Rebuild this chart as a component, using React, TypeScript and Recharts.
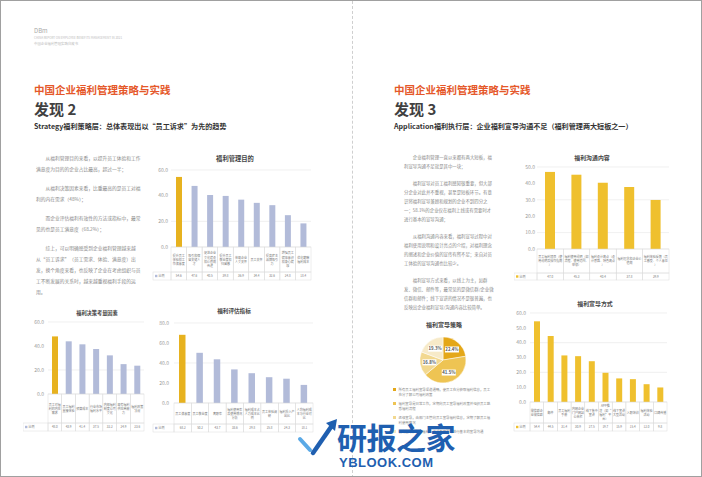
import React from 'react';
import { BarChart, Bar, XAxis, YAxis, CartesianGrid, Cell, PieChart, Pie } from 'recharts';

const FONT = '"Noto Sans CJK SC", "Noto Sans", sans-serif';

// 福利管理目的
const purposeCats = ['提升员工体验和工作满意度', '吸引和保留关键人才', '促进企业文化建设和价值观传递', '提升员工敬业度和归属感', '体现企业人文关怀', '员工关怀', '提高雇主品牌吸引力', '增强员工健康意识和身心健康', '优化薪酬福利成本'];
const purposeVals = [54.6, 47.6, 40.5, 39.8, 36.9, 34.4, 32.6, 24.8, 18.4];
const purposeTicks = [0, 20, 40, 60];

// 福利决策考量因素
const factorCats = ['员工对福利的内在需求', '员工福利直接体验', '预算成本', '行业市场福利水平', '内部福利制度公司文化', '现有福利供应商能力', '福利政策法规'];
const factorVals = [48.0, 43.9, 41.4, 37.5, 32.2, 24.9, 23.6];
const factorTicks = [0, 20, 40, 60];

// 福利评估指标
const evalCats = ['员工满意度', '员工敬业度', '离职率', '福利使用率及使用情况分析', '福利成本占人力成本比例', '员工体验调研', '福利投入产出比', '人均福利成本与行业对比'];
const evalVals = [68.2, 50.2, 43.7, 33.6, 29.8, 25.8, 24.3, 18.1];
const evalTicks = [0, 20, 40, 60, 80];

// 福利沟通内容
const commCats = ['员工福利项目（使用说明及操作指南）', '福利使用说明（如流程、使用范围、申领）', '福利设计亮点（设计思路、特色亮点）', '福利理念和企业价值观', '福利体验反馈（员工感受、个人意见）'];
const commVals = [47.0, 45.3, 40.4, 37.8, 29.9];
const commTicks = [0, 10, 20, 30, 40, 50];

// 福利宣导方式
const wayCats = ['微信群企业微信群', '邮件', '员工福利手册', '内网企业门户网站公告栏', '线下集中宣讲', 'APP推送（如“福利”平台）', '线下宣讲大型活动', '入职培训', '福利体验活动', '口碑传播'];
const wayVals = [54.4, 44.5, 31.4, 30.9, 27.5, 19.7, 15.9, 15.4, 12.0, 9.8];
const wayTicks = [0, 10, 20, 30, 40, 50, 60];

// 福利宣导策略
const strategyNames = ['有计划', '日常宣导', '逐级宣导', '基本宣导'];
const strategyVals = [22.4, 41.5, 16.8, 19.3];
const strategyColors = ['#e4a718', '#eec453', '#f2d88f', '#f7eac8'];
const strategyLegend = [
  '所有员工福利宣导渠道通畅，使员工充分获取福利信息，员工充分了解公司福利政策',
  '福利宣导是日常工作，定期向员工宣导福利政策并组织员工熟悉福利流程',
  '逐级宣导，由部门主管向员工宣导福利信息，定期了解员工福利使用情况',
  '没有宣导，仅在福利上线或有需要时进行基本的宣导沟通',
];

function wrap(s: string, n: number) {
  const out: string[] = [];
  for (let i = 0; i < s.length; i += n) out.push(s.slice(i, i + n));
  return out;
}

function TableTick(props: any) {
  const { x, y, payload, index, bw, cellH, valH, vals, font, legendW, legendFill } = props;
  const i = index ?? payload.index;
  const n = Math.max(1, Math.floor((bw - 1.5) / font));
  const lines = wrap(String(payload.value), n);
  const lh = font * 1.35;
  const y0 = y + cellH / 2 - ((lines.length - 1) * lh) / 2 + font * 0.35;
  return (
    <g>
      <rect x={x - bw / 2} y={y} width={bw} height={cellH} fill="none" stroke="#dcdcdc" strokeWidth={0.5} />
      <text fontSize={font} fill="#777" textAnchor="middle" fontFamily={FONT}>
        {lines.map((l, k) => (
          <tspan key={k} x={x} y={y0 + k * lh}>{l}</tspan>
        ))}
      </text>
      <rect x={x - bw / 2} y={y + cellH} width={bw} height={valH} fill="none" stroke="#dcdcdc" strokeWidth={0.5} />
      <text x={x} y={y + cellH + valH / 2 + font * 0.35} fontSize={font} fill="#777" textAnchor="middle" fontFamily={FONT}>
        {vals[i].toFixed(1)}
      </text>
      {i === 0 && (
        <g>
          <rect x={x - bw / 2 - legendW} y={y + cellH} width={legendW} height={valH} fill="none" stroke="#dcdcdc" strokeWidth={0.5} />
          <rect x={x - bw / 2 - legendW + 2} y={y + cellH + valH / 2 - 1.2} width={2.4} height={2.4} fill={legendFill} />
          <text x={x - bw / 2 - legendW + 5.5} y={y + cellH + valH / 2 + font * 0.35} fontSize={font} fill="#777" fontFamily={FONT}>比例</text>
        </g>
      )}
    </g>
  );
}

function TableBarChart(p: any) {
  const mt = 4;
  const mr = 2;
  const axisH = p.cellH + p.valH + 1;
  const width = p.yAxisW + p.plotW + mr;
  const height = mt + p.plotH + axisH;
  const data = p.cats.map((c: string, i: number) => ({ name: c, value: p.vals[i] }));
  const bw = p.plotW / p.cats.length;
  const max = p.ticks[p.ticks.length - 1];
  return (
    <>
      <div style={{ position: 'absolute', left: p.titleX - 100, top: p.titleY - p.titleSize * 0.7, width: 200, textAlign: 'center', fontSize: p.titleSize, fontWeight: 700, color: '#444', lineHeight: 1.2 }}>
        {p.title}
      </div>
      <div style={{ position: 'absolute', left: p.x0 - p.yAxisW, top: p.yTop - mt }}>
        <BarChart width={width} height={height} data={data} margin={{ top: mt, right: mr, bottom: 0, left: 0 }}>
          <CartesianGrid vertical={false} stroke="#e6e6e6" strokeWidth={0.6} />
          <XAxis
            dataKey="name"
            height={axisH}
            interval={0}
            tickSize={0}
            tickMargin={0}
            axisLine={false}
            tickLine={false}
            tick={(t: any) => (
              <TableTick {...t} bw={bw} cellH={p.cellH} valH={p.valH} vals={p.vals} font={p.cellFont} legendW={p.legendW} legendFill={p.legendFill} />
            )}
          />
          <YAxis
            width={p.yAxisW}
            domain={[0, max]}
            ticks={p.ticks}
            axisLine={false}
            tickLine={false}
            tickSize={0}
            tickMargin={p.tickMargin}
            tick={{ fontSize: 5, fill: '#999', fontFamily: FONT }}
            tickFormatter={(v: number) => v.toFixed(1)}
          />
          <Bar dataKey="value" barSize={p.barSize} isAnimationActive={false}>
            {data.map((d: any, i: number) => (
              <Cell key={i} fill={i === 0 && p.firstFill ? p.firstFill : p.fill} />
            ))}
          </Bar>
        </BarChart>
      </div>
    </>
  );
}

function PieLabel(props: any) {
  const { cx, cy, midAngle, outerRadius, value } = props;
  const RAD = Math.PI / 180;
  const r = outerRadius * 0.6;
  const x = cx + r * Math.cos(-midAngle * RAD);
  const y = cy + r * Math.sin(-midAngle * RAD);
  return (
    <g>
      <rect x={x - 7} y={y - 3} width={14} height={6} fill="#fff" />
      <text x={x} y={y + 1.5} fontSize={4.3} fontWeight={700} fill="#555" textAnchor="middle" fontFamily={FONT}>
        {value.toFixed(1)}%
      </text>
    </g>
  );
}

const paraLeft = [
  '从福利管理目的来看，以提升员工体验和工作满意度为目的的企业占比最高，超过一半；',
  '从福利决策因素来看，比重最高的是员工对福利的内在需求（48%）；',
  '而企业评估福利有效性的方法或指标中，最常见的也是员工满意度（68.2%）；',
  '综上，可以明确感受到企业福利管理越来越从“员工诉求”（员工需求、体验、满意度）出发，换个角度来看，也反映了企业在考虑组织与员工不断发展的关系时，越来越重视福利手段的运用。',
];

const paraRight = [
  '企业福利管理一直以来都有两大短板，福利宣导沟通不足就是其中一块；',
  '福利宣导对员工福利感知很重要，但大部分企业对此并不重视，甚至是短板环节。有意识将福利宣导兼顾和规划的企业不到四分之一；58.1%的企业仅在福利上线或有需要时才进行基本的宣导沟通；',
  '从福利沟通内容来看，福利宣导过程中对福利使用说明和设计亮点的介绍，对福利理念的阐述和企业价值的宣传有所不足；来自对员工体验的宣导沟通也比较少。',
  '福利宣导方式来看，以线上为主，如群发、微信、邮件等，最常见的是微信群/企业微信群和邮件；线下宣讲的情况不是很普遍，也反映出企业福利宣导/沟通内容比较简单。',
];

export default function App() {
  const pieData = strategyNames.map((n, i) => ({ name: n, value: strategyVals[i] }));
  return (
    <div style={{ position: 'absolute', left: 0, top: 0, width: 702, height: 477, background: '#fff', fontFamily: FONT, overflow: 'hidden', border: '1px solid #a0a0a0', boxSizing: 'border-box' }}>
      <div style={{ position: 'absolute', left: 351, top: 0, height: 477, borderLeft: '1px dashed #cfcfcf' }} />

      {/* header */}
      <div style={{ position: 'absolute', left: 33, top: 27, fontSize: 6, color: '#aaa', lineHeight: 1 }}>DBm</div>
      <div style={{ position: 'absolute', left: 33, top: 36, fontSize: 3, color: '#bbb', lineHeight: 1 }}>CHINA REPORT ON EMPLOYEE BENEFITS MANAGEMENT IN 2021</div>
      <div style={{ position: 'absolute', left: 33, top: 41, fontSize: 3.4, color: '#bbb', lineHeight: 1 }}>中国企业福利管理实践白皮书</div>

      {/* left heading */}
      <div style={{ position: 'absolute', left: 33, top: 83, fontSize: 10.5, fontWeight: 700, color: '#e5582a', lineHeight: 1.2 }}>中国企业福利管理策略与实践</div>
      <div style={{ position: 'absolute', left: 33, top: 99, fontSize: 15, fontWeight: 700, color: '#404040', lineHeight: 1.2 }}>发现 2</div>
      <div style={{ position: 'absolute', left: 33, top: 120.5, fontSize: 7.1, fontWeight: 600, color: '#333', lineHeight: 1.2, whiteSpace: 'nowrap' }}>Strategy福利策略层：总体表现出以“员工诉求”为先的趋势</div>

      {/* right heading */}
      <div style={{ position: 'absolute', left: 393, top: 83, fontSize: 10.5, fontWeight: 700, color: '#e5582a', lineHeight: 1.2 }}>中国企业福利管理策略与实践</div>
      <div style={{ position: 'absolute', left: 393, top: 99, fontSize: 15, fontWeight: 700, color: '#404040', lineHeight: 1.2 }}>发现 3</div>
      <div style={{ position: 'absolute', left: 393, top: 120.5, fontSize: 7.1, fontWeight: 600, color: '#333', lineHeight: 1.2, whiteSpace: 'nowrap' }}>Application福利执行层：企业福利宣导沟通不足（福利管理两大短板之一）</div>

      {/* left paragraphs */}
      <div style={{ position: 'absolute', left: 35, top: 150.5, width: 106 }}>
        {paraLeft.map((t, i) => (
          <div key={i} style={{ fontSize: 4.75, lineHeight: '11px', color: '#888', textIndent: '2em', marginBottom: 8 }}>{t}</div>
        ))}
      </div>

      {/* right paragraphs */}
      <div style={{ position: 'absolute', left: 403, top: 151.5, width: 90 }}>
        {paraRight.map((t, i) => (
          <div key={i} style={{ fontSize: 4.4, lineHeight: '9px', color: '#888', textIndent: '2em', marginBottom: 8 }}>{t}</div>
        ))}
      </div>

      <TableBarChart title="福利管理目的" titleX={234} titleY={158} titleSize={6.3}
        cats={purposeCats} vals={purposeVals} ticks={purposeTicks}
        x0={170} yTop={169} plotW={140} plotH={77} yAxisW={30} tickMargin={3}
        cellH={25} valH={8} legendW={18} cellFont={3} barSize={6}
        fill="#b2bbd9" firstFill="#e7b21f" legendFill="#b2bbd9" />

      <TableBarChart title="福利决策考量因素" titleX={96} titleY={313} titleSize={5.2}
        cats={factorCats} vals={factorVals} ticks={factorTicks}
        x0={47} yTop={321} plotW={96} plotH={72} yAxisW={25} tickMargin={4}
        cellH={29} valH={8} legendW={25} cellFont={3} barSize={6}
        fill="#b2bbd9" firstFill="#e7b21f" legendFill="#b2bbd9" />

      <TableBarChart title="福利评估指标" titleX={233} titleY={311} titleSize={5.6}
        cats={evalCats} vals={evalVals} ticks={evalTicks}
        x0={173} yTop={322} plotW={139} plotH={80} yAxisW={25} tickMargin={5}
        cellH={21} valH={8} legendW={21} cellFont={3} barSize={6.5}
        fill="#b2bbd9" firstFill="#e7b21f" legendFill="#b2bbd9" />

      <TableBarChart title="福利沟通内容" titleX={591} titleY={157} titleSize={5.9}
        cats={commCats} vals={commVals} ticks={commTicks}
        x0={536} yTop={166} plotW={132} plotH={82} yAxisW={23} tickMargin={2}
        cellH={24} valH={7} legendW={23} cellFont={3} barSize={10}
        fill="#efc02e" legendFill="#efc02e" />

      <TableBarChart title="福利宣导方式" titleX={594} titleY={303} titleSize={5.9}
        cats={wayCats} vals={wayVals} ticks={wayTicks}
        x0={529} yTop={312} plotW={137} plotH={89} yAxisW={20} tickMargin={4}
        cellH={21} valH={8} legendW={16} cellFont={3} barSize={6}
        fill="#efc02e" legendFill="#efc02e" />

      {/* pie */}
      <div style={{ position: 'absolute', left: 343, top: 320, width: 200, textAlign: 'center', fontSize: 6, fontWeight: 700, color: '#444', lineHeight: 1.2 }}>福利宣导策略</div>
      <div style={{ position: 'absolute', left: 402, top: 319 }}>
        <PieChart width={80} height={80} margin={{ top: 0, right: 0, bottom: 0, left: 0 }}>
          <Pie data={pieData} dataKey="value" cx={40} cy={40} outerRadius={23} startAngle={90} endAngle={-270}
            stroke="#fff" strokeWidth={0.5} isAnimationActive={false} label={PieLabel} labelLine={false}>
            {pieData.map((d, i) => (
              <Cell key={i} fill={strategyColors[i]} />
            ))}
          </Pie>
        </PieChart>
      </div>
      <div style={{ position: 'absolute', left: 392, top: 386, width: 100 }}>
        {strategyLegend.map((t, i) => (
          <div key={i} style={{ display: 'flex', alignItems: 'flex-start', marginBottom: 4 }}>
            <div style={{ width: 2.6, height: 2.6, background: strategyColors[i], marginTop: 1.2, marginRight: 3, flexShrink: 0 }} />
            <div style={{ fontSize: 3.4, lineHeight: '5px', color: '#888' }}>{t}</div>
          </div>
        ))}
      </div>

      {/* watermark */}
      <svg style={{ position: 'absolute', left: 0, top: 0 }} width={702} height={477}>
        <polyline points="299,438 309,449" stroke="#5aa9e6" strokeWidth={4} fill="none" strokeLinecap="round" />
        <polyline points="312,452 330,426" stroke="#1f5fb0" strokeWidth={4.5} fill="none" strokeLinecap="round" />
        <polygon points="325,422 336,418 334,430" fill="#1f5fb0" />
      </svg>
      <div style={{ position: 'absolute', left: 336, top: 418, fontSize: 30, fontWeight: 700, color: '#1f5fb0', lineHeight: 1.15, letterSpacing: -0.5 }}>研报之家</div>
      <div style={{ position: 'absolute', left: 338, top: 455, fontSize: 13, fontWeight: 700, color: '#1f5fb0', lineHeight: 1.1, letterSpacing: 0.5, fontFamily: '"Liberation Sans", sans-serif' }}>YBLOOK.COM</div>
    </div>
  );
}
